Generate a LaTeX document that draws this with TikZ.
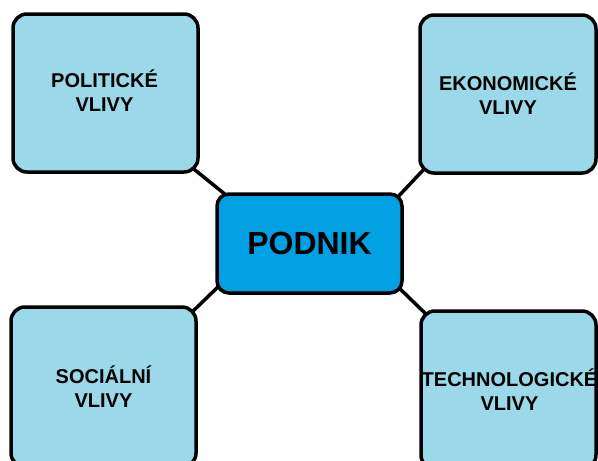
\documentclass[tikz,border=0pt]{standalone}
\usepackage{fontspec}
\setmainfont{Liberation Sans}
\usetikzlibrary{backgrounds,calc}
\definecolor{lightbox}{RGB}{155,217,234}
\definecolor{mainbox}{RGB}{0,160,227}
\begin{document}
\begin{tikzpicture}[x=1pt,y=-1pt,
  box/.style={draw=black,line width=3.5pt,rounded corners=14pt,fill=lightbox,
    align=center,font=\fontsize{20}{24}\selectfont\bfseries,inner sep=0pt},
  boxtext/.style={align=center,font=\fontsize{20}{24}\selectfont\bfseries,inner sep=0pt},
  center/.style={draw=black,line width=3.5pt,rounded corners=12pt,fill=mainbox,
    font=\fontsize{32}{36}\selectfont\bfseries,inner sep=0pt,
    minimum width=185pt,minimum height=99pt},
  link/.style={line width=3.5pt,black}]
\useasboundingbox (0,0) rectangle (598,461);
\clip (0,0) rectangle (598,461);
\node[center] (c) at (309.5,243.5) {PODNIK};
\node[box,minimum width=185pt,minimum height=158pt] (pol) at (105.5,93) {};
\node[boxtext] (poltxt) at (104.5,91) {POLITICKÉ\\VLIVY};
\node[box,minimum width=176pt,minimum height=158pt] (eko) at (508,94) {EKONOMICKÉ\\VLIVY};
\node[box,minimum width=185pt,minimum height=160pt] (soc) at (103.5,387) {SOCIÁLNÍ\\VLIVY};
\node[box,minimum width=175pt,minimum height=158pt] (tech) at (508.5,390) {};
\node[boxtext] (techtxt) at (509.5,390) {TECHNOLOGICKÉ\\VLIVY};
\begin{scope}[on background layer]
\draw[link] ($(pol.south east)+(-10,-8)$) -- ($(c.north west)+(11,3)$);
\draw[link] ($(eko.south west)+(8,-8)$) -- ($(c.north east)+(-9,8)$);
\draw[link] ($(soc.north east)+(-9,10)$) -- ($(c.south west)+(5,-10)$);
\draw[link] ($(c.south east)+(-9,-11)$) -- ($(tech.north west)+(11,9)$);
\end{scope}
\end{tikzpicture}
\end{document}
